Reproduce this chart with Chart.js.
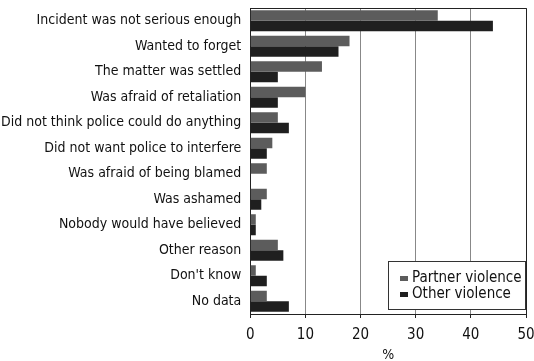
<!DOCTYPE html>
<html>
<head>
<meta charset="utf-8">
<script src="https://cdn.jsdelivr.net/npm/chart.js@4/dist/chart.umd.min.js"></script>
<style>
  html, body { margin: 0; padding: 0; background: #fff; }
  #wrap { width: 534px; height: 361px; position: relative; }
</style>
</head>
<body>
<div id="wrap"><canvas id="chart"></canvas></div>
<script>
// Reasons for not reporting, % of incidents
const categories = [
  'Incident was not serious enough',
  'Wanted to forget',
  'The matter was settled',
  'Was afraid of retaliation',
  'Did not think police could do anything',
  'Did not want police to interfere',
  'Was afraid of being blamed',
  'Was ashamed',
  'Nobody would have believed',
  'Other reason',
  "Don't know",
  'No data'
];
const partnerViolence = [34, 18, 13, 10, 5, 4, 3, 3, 1, 5, 1, 3];
const otherViolence = [44, 16, 5, 5, 7, 3, 0, 2, 1, 6, 3, 7];
const xTicks = [0, 10, 20, 30, 40, 50];

const FONT = '"Liberation Sans Narrow", "DejaVu Sans Condensed", "Roboto Condensed", sans-serif';
const partnerColor = '#5c5c5c';
const otherColor = '#1f1f1f';

// legend drawn inside the plot, bottom right
const insideLegend = {
  id: 'insideLegend',
  afterDraw(chart) {
    const ctx = chart.ctx;
    const area = chart.chartArea;
    const w = 137, h = 48;
    const x = area.right - w - 1, y = area.bottom - h - 5;
    ctx.save();
    ctx.fillStyle = '#fff';
    ctx.fillRect(x, y, w, h);
    ctx.strokeStyle = '#333';
    ctx.lineWidth = 1;
    ctx.strokeRect(x + 0.5, y + 0.5, w, h);
    ctx.font = '15px ' + FONT;
    ctx.textBaseline = 'middle';
    chart.data.datasets.forEach((ds, i) => {
      const ly = y + 17 + i * 16;
      ctx.fillStyle = ds.backgroundColor;
      ctx.fillRect(x + 12, ly - 2, 8, 5);
      ctx.fillStyle = '#111';
      ctx.fillText(ds.label, x + 24, ly);
    });
    ctx.restore();
  }
};

new Chart(document.getElementById('chart'), {
  type: 'bar',
  data: {
    labels: categories,
    datasets: [
      { label: 'Partner violence', data: partnerViolence, backgroundColor: partnerColor },
      { label: 'Other violence', data: otherViolence, backgroundColor: otherColor }
    ]
  },
  options: {
    indexAxis: 'y',
    responsive: true,
    maintainAspectRatio: false,
    animation: false,
    categoryPercentage: 0.82,
    barPercentage: 1.0,
    layout: { padding: { top: 8, right: 8, left: 0, bottom: 0 } },
    plugins: {
      legend: { display: false },
      tooltip: { enabled: false }
    },
    scales: {
      x: {
        min: 0,
        max: 50,
        afterBuildTicks(axis) { axis.ticks = xTicks.map(v => ({ value: v })); },
        afterFit(axis) { axis.paddingRight = 0; },
        grid: { color: '#888', lineWidth: 1, drawTicks: true, tickLength: 4, tickColor: '#222' },
        border: { color: '#222', width: 1 },
        ticks: { color: '#111', font: { family: FONT, size: 15, lineHeight: 1 }, padding: 10 },
        title: { display: true, text: '%', color: '#111', font: { family: FONT, size: 14, lineHeight: 1 }, padding: { top: -5, bottom: -1 } }
      },
      y: {
        afterFit(axis) { axis.paddingTop = 0; axis.paddingBottom = 0; },
        grid: { display: false },
        border: { color: '#222', width: 1 },
        ticks: { color: '#111', font: { family: FONT, size: 14 }, padding: 1, autoSkip: false }
      }
    }
  },
  plugins: [insideLegend, {
    id: 'frame',
    afterDraw(chart) {
      const { ctx, chartArea: a } = chart;
      ctx.save();
      ctx.strokeStyle = '#222';
      ctx.lineWidth = 1;
      ctx.beginPath();
      ctx.moveTo(a.left, a.top + 0.5);
      ctx.lineTo(a.right + 0.5, a.top + 0.5);
      ctx.lineTo(a.right + 0.5, a.bottom);
      ctx.stroke();
      ctx.restore();
    }
  }]
});
</script>
</body>
</html>
